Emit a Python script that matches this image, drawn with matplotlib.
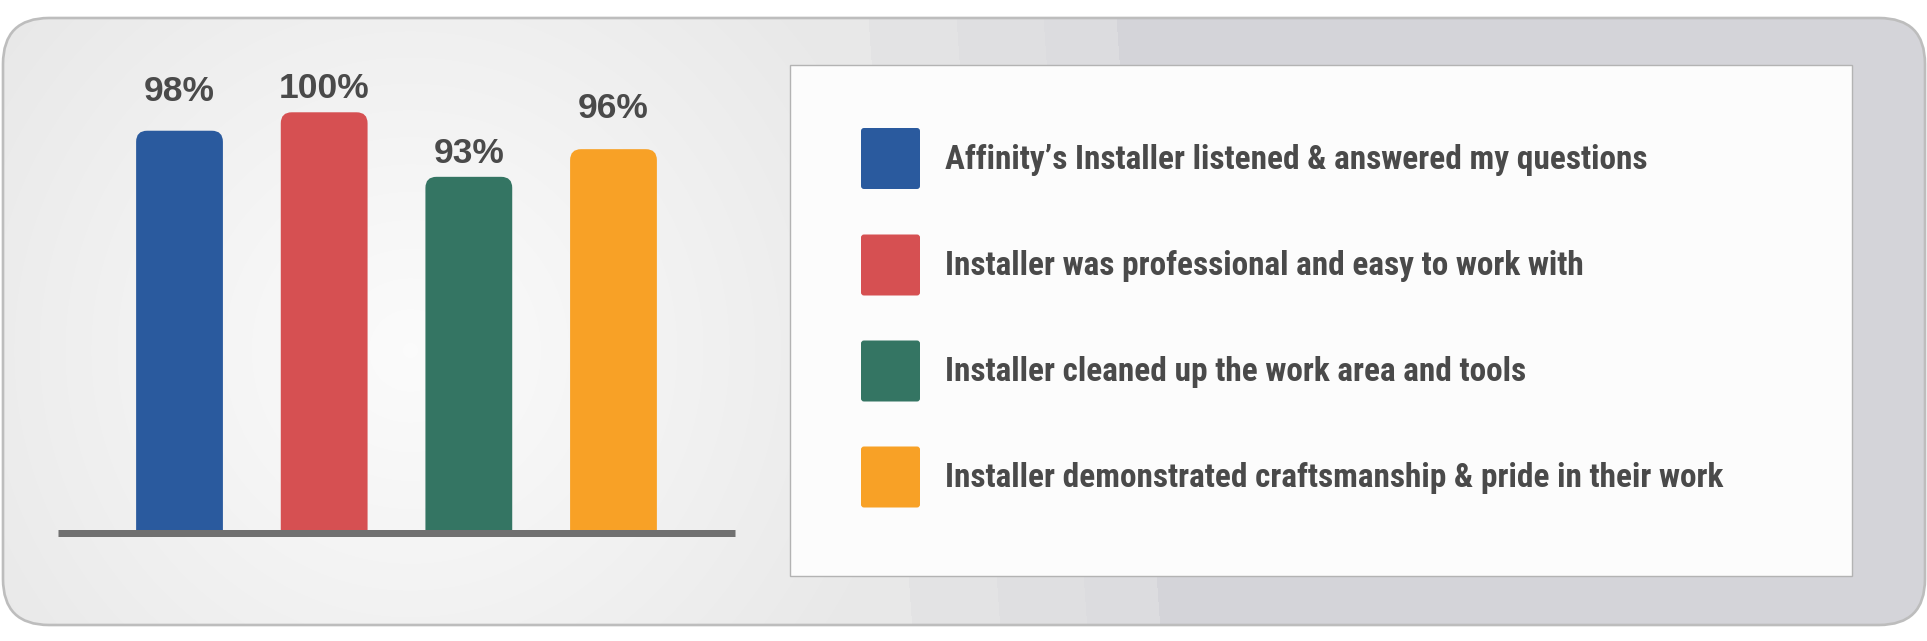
import numpy as np
import matplotlib
matplotlib.use("Agg")
import matplotlib.pyplot as plt
from matplotlib.patches import FancyBboxPatch

# ---- data ----
categories = [
    "Affinity\u2019s Installer listened & answered my questions",
    "Installer was professional and easy to work with",
    "Installer cleaned up the work area and tools",
    "Installer demonstrated craftsmanship & pride in their work",
]
values = [98, 100, 93, 96]
value_labels = ["98%", "100%", "93%", "96%"]
colors = ["#2a5a9e", "#d65052", "#347563", "#f8a126"]

# ---- style / layout (pixels) ----
W, H = 1927, 641
label_offsets_px = [30, 14, 14, 31]
text_color = "#4a4a4a"

fig = plt.figure(figsize=(W / 100, H / 100), dpi=100)
fig.patch.set_facecolor("white")

# background axes in pixel coordinates
bg = fig.add_axes([0, 0, 1, 1])
bg.set_xlim(0, W)
bg.set_ylim(H, 0)
bg.axis("off")

# panel gradient image
yy, xx = np.mgrid[0:H, 0:W].astype(float)
r = np.hypot(xx - 410, (yy - 350) * 1.0)
f = np.clip(r / 520.0, 0, 1)
light = 0.985 - 0.075 * f ** 1.1
xs = xx - 0.072 * (yy - 18)
t = np.zeros_like(xx)
t[xs >= 868] = 0.25
t[xs >= 956] = 0.45
t[xs >= 1043] = 0.62
t[xs >= 1116] = 1.0
dark = np.array([0.835, 0.835, 0.853])
img = np.empty((H, W, 3))
for c in range(3):
    img[..., c] = light * (1 - t) + dark[c] * t

panel = FancyBboxPatch((3, 18), 1922, 607,
                       boxstyle="round,pad=0,rounding_size=46",
                       facecolor="none", edgecolor="#bdbdbd", linewidth=1.9,
                       zorder=2)
bg.add_patch(panel)
im = bg.imshow(img, extent=(0, W, H, 0), zorder=1, interpolation="bilinear")
im.set_clip_path(panel)

# legend box
bg.add_patch(plt.Rectangle((790, 65), 1062, 511, facecolor="#fcfcfc",
                           edgecolor="#b3b3b3", linewidth=1.0, zorder=3))

# ---- bar chart axes ----
bottom_px, top_px = 532.5, 20
left_px, right_px = 58, 735
ax = fig.add_axes([left_px / W, (H - bottom_px) / H,
                   (right_px - left_px) / W, (bottom_px - top_px) / H])
ax.patch.set_alpha(0)
for s in ax.spines.values():
    s.set_visible(False)
ax.set_xticks([])
ax.set_yticks([])

def v_of(px):
    return 96.75 - (px - 142.25) / 9.22

ax.set_ylim(v_of(bottom_px), v_of(top_px))
x = np.arange(len(values))
ax.set_xlim(-0.84, 3.84)

bars = ax.bar(x, values, width=0.6, color=colors)
fig.canvas.draw()
# convert bars to rounded-top patches
inv = ax.transData.inverted()
(x0d, y0d) = inv.transform((0, 0))
(x1d, y1d) = inv.transform((1, 1))
aspect = abs(y1d - y0d) / abs(x1d - x0d)
rad_px = 11
for b in bars:
    b.set_visible(False)
    bx, bw, bh = b.get_x(), b.get_width(), b.get_height()
    p = FancyBboxPatch((bx, 0), bw, bh,
                       boxstyle="round,pad=0,rounding_size=%f" % (rad_px * abs(x1d - x0d)),
                       mutation_aspect=aspect,
                       facecolor=b.get_facecolor(), edgecolor="none", zorder=2)
    ax.add_patch(p)

ax.axhline(ax.get_ylim()[0], color="#707070", linewidth=7 * 0.72, zorder=3,
           clip_on=False, solid_capstyle="butt")

for xi, v, lab, off in zip(x, values, value_labels, label_offsets_px):
    ax.annotate(lab, (xi, v), xytext=(0, off * 0.72), textcoords="offset points",
                ha="center", va="baseline", fontsize=25.5, fontweight="bold",
                family=["Liberation Sans", "DejaVu Sans"], color=text_color)

# ---- legend entries ----
sw_centers = [158.5, 265, 371, 477]
sw_x, sw_w, sw_h = 861, 59, 61
leg_font = ["Liberation Sans Narrow", "Roboto Condensed", "Open Sans Condensed",
            "DejaVu Sans Condensed", "Liberation Sans", "DejaVu Sans"]
texts = []
for cat, col, cy in zip(categories, colors, sw_centers):
    bg.add_patch(FancyBboxPatch((sw_x, cy - sw_h / 2), sw_w, sw_h,
                                boxstyle="round,pad=0,rounding_size=3",
                                facecolor=col, edgecolor="none", zorder=4))
    texts.append(bg.text(945, cy + 10, cat, ha="left", va="baseline",
                         fontsize=20, fontweight="bold", family=leg_font,
                         color=text_color, zorder=5))
fig.canvas.draw()
renderer = fig.canvas.get_renderer()
wmax = texts[3].get_window_extent(renderer).width
fs = 20 * 776.0 / wmax
for tt in texts:
    tt.set_fontsize(fs)

fig.savefig("out.png", dpi=100, facecolor="white")
